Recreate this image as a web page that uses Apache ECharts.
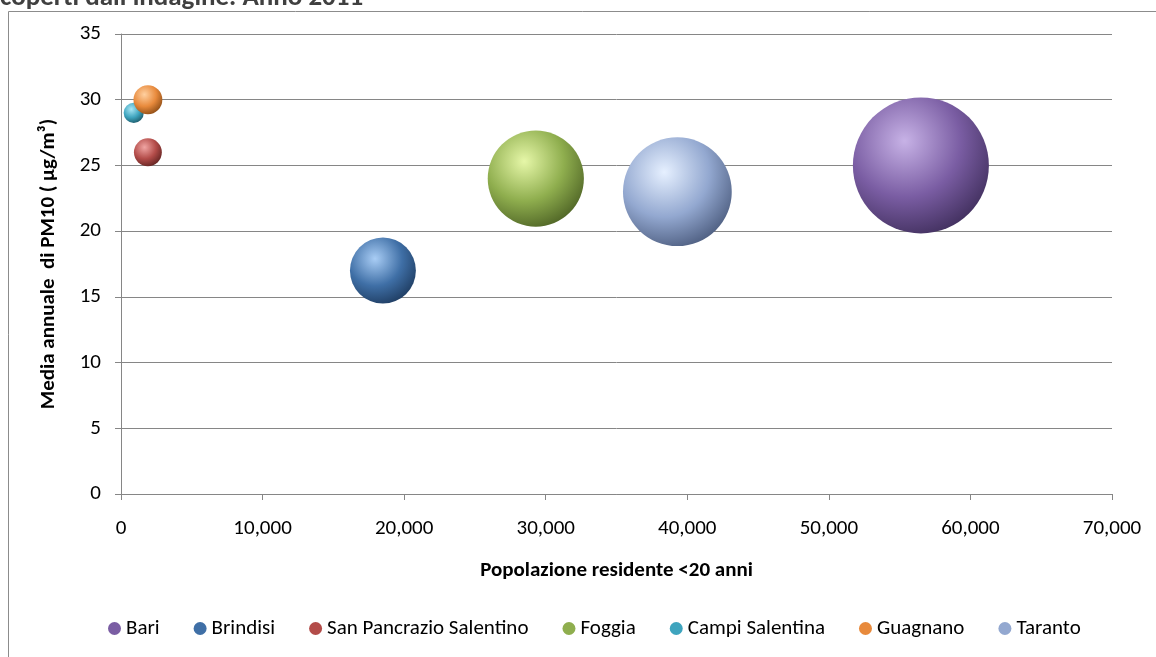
<!DOCTYPE html>
<html>
<head>
<meta charset="utf-8">
<script src="https://cdn.jsdelivr.net/npm/echarts@6/dist/echarts.min.js"></script>
<style>
html,body{margin:0;padding:0;background:#fff;}
#c{width:1156px;height:657px;}
</style>
</head>
<body>
<div id="c"></div>
<script>
// ---- data ----
const cities = ['Bari','Brindisi','San Pancrazio Salentino','Foggia','Campi Salentina','Guagnano','Taranto'];
const population = [56500, 18500, 1900, 29300, 900, 1900, 39300];   // Popolazione residente <20 anni
const pm10 = [25, 17, 26, 24, 29, 30, 23];                          // Media annuale PM10 (µg/m³)
const bubbleValue = [100, 23.5, 4.2, 50, 2.2, 4.5, 64];             // bubble magnitude (relative)
const xTicks = [0, 10000, 20000, 30000, 40000, 50000, 60000, 70000];
const yTicks = [0, 5, 10, 15, 20, 25, 30, 35];

const palette = [
  ['#c7b2e6','#7a5da3','#3e2d5a'],
  ['#a9cdf5','#3f6fa6','#1d3a5e'],
  ['#f0a5a3','#b34c49','#5e2220'],
  ['#e6f7a8','#8fae4e','#4c6124'],
  ['#a8e6f5','#3ea4be','#1b5665'],
  ['#ffd0a0','#e88a3c','#8a4a14'],
  ['#e6f0ff','#93a8d0','#4a5a7c']
];
const FONT = 'Carlito, Calibri, Lato, sans-serif';
const FS = 21;
const maxD = 136;
function sizeOf(v){ return maxD * Math.sqrt(v / 100); }

const series = cities.map((name, i) => ({
  name: name,
  type: 'scatter',
  data: [[population[i], pm10[i], bubbleValue[i]]],
  symbolSize: d => sizeOf(d[2]),
  itemStyle: {
    color: {
      type: 'radial', x: 0.38, y: 0.32, r: 0.75,
      colorStops: [
        {offset: 0, color: palette[i][0]},
        {offset: 0.55, color: palette[i][1]},
        {offset: 1, color: palette[i][2]}
      ]
    },
    opacity: 1
  },
  emphasis: {disabled: true}
}));

const chart = echarts.init(document.getElementById('c'));
chart.setOption({
  animation: false,
  textStyle: {fontFamily: FONT},
  graphic: [
    {type: 'rect', shape: {x: 8.5, y: 11.5, width: 1300, height: 800},
     style: {fill: 'none', stroke: '#8c8c8c', lineWidth: 1}, silent: true, z: -10},
    {type: 'text', x: 0, y: 12,
     style: {text: "coperti dall'indagine. Anno 2011", fill: '#404040',
             font: 'bold 27px ' + FONT, verticalAlign: 'bottom', align: 'left'}}
  ],
  grid: {left: 121, right: 44, top: 34, bottom: 163},
  legend: {
    data: cities.map((c, i) => ({name: c, itemStyle: {color: palette[i][1]}})),
    bottom: 13, left: 103, icon: 'circle', itemWidth: 13, itemHeight: 13,
    itemGap: 34,
    textStyle: {fontFamily: FONT, fontSize: FS, color: '#000'}
  },
  xAxis: {
    type: 'value', min: xTicks[0], max: xTicks[xTicks.length - 1], interval: 10000,
    name: 'Popolazione residente <20 anni', nameLocation: 'middle', nameGap: 66,
    nameTextStyle: {fontFamily: FONT, fontSize: FS, fontWeight: 'bold', color: '#000'},
    axisLine: {show: true, lineStyle: {color: '#868686', width: 1}},
    axisTick: {show: true, length: 6, lineStyle: {color: '#868686'}},
    splitLine: {show: false},
    axisLabel: {margin: 24, fontSize: FS, color: '#000', fontFamily: FONT,
      formatter: v => v.toLocaleString('en-US')}
  },
  yAxis: {
    type: 'value', min: yTicks[0], max: yTicks[yTicks.length - 1], interval: 5,
    name: 'Media annuale  di PM10 ( μg/m³)', nameLocation: 'middle', nameGap: 62,
    nameTextStyle: {fontFamily: FONT, fontSize: FS, fontWeight: 'bold', color: '#000'},
    axisLine: {show: true, lineStyle: {color: '#868686', width: 1}},
    axisTick: {show: true, length: 6, lineStyle: {color: '#868686'}},
    splitLine: {show: true, lineStyle: {color: '#868686', width: 1}},
    axisLabel: {margin: 20, fontSize: FS, color: '#000', fontFamily: FONT}
  },
  series: series
});
</script>
</body>
</html>
